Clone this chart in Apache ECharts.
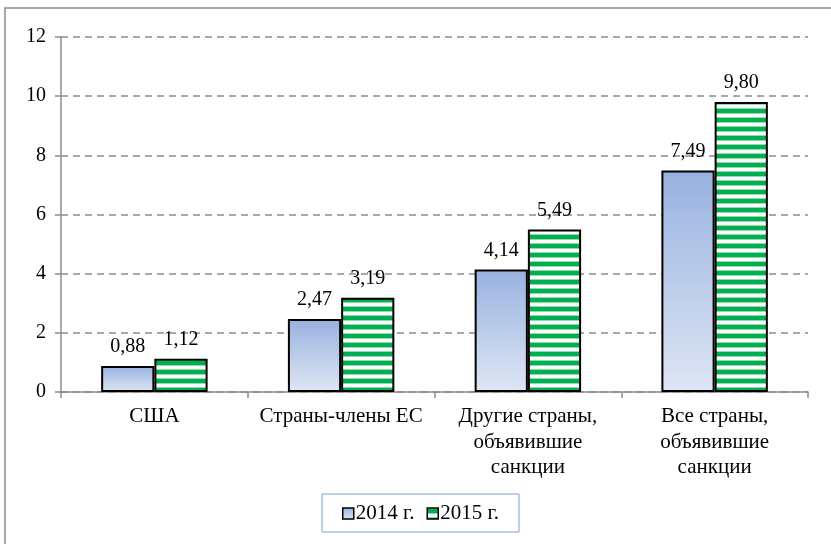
<!DOCTYPE html>
<html>
<head>
<meta charset="utf-8">
<script src="https://cdn.jsdelivr.net/npm/echarts@6/dist/echarts.min.js"></script>
<style>
  html, body { margin: 0; padding: 0; background: #fff; }
  #chart { width: 831px; height: 544px; }
</style>
</head>
<body>
<div id="chart"></div>
<script>
var categories = ['США', 'Страны-члены ЕС', 'Другие страны,\nобъявившие\nсанкции', 'Все страны,\nобъявившие\nсанкции']
var values2014 = [0.88, 2.47, 4.14, 7.49]
var values2015 = [1.12, 3.19, 5.49, 9.80]
var seriesNames = ['2014 г.', '2015 г.']

var FONT = 'Liberation Serif'

// horizontal green stripes for 2015
function makeStripes() {
    var c = document.createElement('canvas')
    c.width = 4
    c.height = 9
    var ctx = c.getContext('2d')
    ctx.fillStyle = '#ffffff'
    ctx.fillRect(0, 0, 4, 9)
    ctx.fillStyle = '#8fdcae'
    ctx.fillRect(0, 0, 4, 1)
    ctx.fillRect(0, 5, 4, 1)
    ctx.fillStyle = '#00b050'
    ctx.fillRect(0, 1, 4, 4)
    return c
}

var blueGrad = new echarts.graphic.LinearGradient(0, 0, 0, 1, [
    { offset: 0, color: '#97b2e0' },
    { offset: 1, color: '#dfe6f4' }
])

function fmt(p) {
    return p.value.toFixed(2).replace('.', ',')
}

var chart = echarts.init(document.getElementById('chart'))

var option = {
    animation: false,
    textStyle: { fontFamily: FONT },
    graphic: [{
        type: 'rect',
        shape: { x: 5, y: 8, width: 900, height: 900 },
        style: { fill: 'none', stroke: '#8c8c8c', lineWidth: 1.5 },
        silent: true
    }],
    grid: { left: 61, right: 23, top: 37, bottom: 152 },
    legend: {
        left: 322,
        top: 494,
        padding: [9, 20, 8, 20],
        borderColor: '#7b9fd6',
        borderWidth: 1,
        itemWidth: 11,
        itemHeight: 11,
        itemGap: 12,
        icon: 'rect',
        itemStyle: { borderColor: '#000', borderWidth: 1.5 },
        textStyle: { fontFamily: FONT, fontSize: 21, color: '#000', padding: [0, 0, 0, -3] },
        data: seriesNames
    },
    xAxis: {
        type: 'category',
        data: categories,
        axisLine: { lineStyle: { color: '#8c8c8c', width: 1.5 } },
        axisTick: { show: true, length: 6, lineStyle: { color: '#8c8c8c', width: 1.5 } },
        axisLabel: { interval: 0, fontFamily: FONT, fontSize: 21, color: '#000', lineHeight: 25.5, margin: 12 }
    },
    yAxis: {
        type: 'value',
        min: 0,
        max: 12,
        interval: 2,
        axisLine: { show: true, lineStyle: { color: '#8c8c8c', width: 1.5 } },
        axisTick: { show: true, length: 6, lineStyle: { color: '#8c8c8c', width: 1.5 } },
        axisLabel: { fontFamily: FONT, fontSize: 20, color: '#000', margin: 15 },
        splitLine: { lineStyle: { color: '#8c8c8c', width: 1.5, type: [7, 5] } }
    },
    series: [
        {
            name: seriesNames[0],
            type: 'bar',
            data: values2014,
            barGap: 0,
            barCategoryGap: '43%',
            itemStyle: { color: blueGrad, borderColor: '#000', borderWidth: 2 },
            label: { show: true, position: 'top', distance: 9, formatter: fmt,
                fontFamily: FONT, fontSize: 20, color: '#000' }
        },
        {
            name: seriesNames[1],
            type: 'bar',
            data: values2015,
            itemStyle: { color: { image: makeStripes(), repeat: 'repeat' }, borderColor: '#000', borderWidth: 2 },
            label: { show: true, position: 'top', distance: 9, formatter: fmt,
                fontFamily: FONT, fontSize: 20, color: '#000' }
        }
    ]
}

chart.setOption(option)
</script>
</body>
</html>
